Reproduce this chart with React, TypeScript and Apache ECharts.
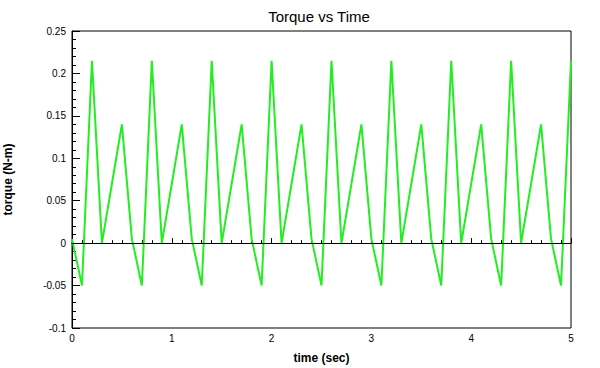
import React, { useEffect, useRef } from "react";
import * as echarts from "echarts";

const times: number[] = [
  0, 0.1, 0.2, 0.3, 0.4, 0.5, 0.6, 0.7, 0.8, 0.9,
  1.0, 1.1, 1.2, 1.3, 1.4, 1.5, 1.6, 1.7, 1.8, 1.9,
  2.0, 2.1, 2.2, 2.3, 2.4, 2.5, 2.6, 2.7, 2.8, 2.9,
  3.0, 3.1, 3.2, 3.3, 3.4, 3.5, 3.6, 3.7, 3.8, 3.9,
  4.0, 4.1, 4.2, 4.3, 4.4, 4.5, 4.6, 4.7, 4.8, 4.9, 5.0,
];
const torque: number[] = [
  0.005, -0.05, 0.215, 0.0, 0.07, 0.14,
  0.005, -0.05, 0.215, 0.0, 0.07, 0.14,
  0.005, -0.05, 0.215, 0.0, 0.07, 0.14,
  0.005, -0.05, 0.215, 0.0, 0.07, 0.14,
  0.005, -0.05, 0.215, 0.0, 0.07, 0.14,
  0.005, -0.05, 0.215, 0.0, 0.07, 0.14,
  0.005, -0.05, 0.215, 0.0, 0.07, 0.14,
  0.005, -0.05, 0.215, 0.0, 0.07, 0.14,
  0.005, -0.05, 0.215,
];
const titleText = "Torque vs Time";
const xName = "time (sec)";
const yName = "torque (N-m)";

export default function App() {
  const ref = useRef<HTMLDivElement>(null);
  useEffect(() => {
    if (!ref.current) return;
    const chart = echarts.init(ref.current, undefined, { renderer: "svg" });
    const font = "Liberation Sans";
    chart.setOption({
      animation: false,
      backgroundColor: "#ffffff",
      title: {
        text: titleText,
        left: 314,
        top: 4,
        textAlign: "center",
        textStyle: { fontFamily: font, fontSize: 15, fontWeight: "normal", color: "#000" },
      },
      grid: {
        left: 72,
        right: 29,
        top: 31,
        bottom: 40,
        outerBoundsMode: "none",
        containLabel: false,
        show: true,
        borderColor: "#000",
        borderWidth: 1,
        backgroundColor: "transparent",
      },
      xAxis: {
        type: "value",
        min: 0,
        max: 5,
        interval: 1,
        name: xName,
        nameLocation: "middle",
        nameGap: 24,
        nameTextStyle: { fontFamily: font, fontSize: 12, fontWeight: "bold", color: "#000" },
        axisLine: { show: true, lineStyle: { color: "#000", width: 1 } },
        axisTick: { show: true, inside: true, length: 5, lineStyle: { color: "#000" } },
        minorTick: { show: true, splitNumber: 10, length: 3, lineStyle: { color: "#000" } },
        splitLine: { show: false },
        axisLabel: { fontFamily: font, fontSize: 10, color: "#000", margin: 5 },
      },
      yAxis: {
        type: "value",
        min: -0.1,
        max: 0.25,
        interval: 0.05,
        name: yName,
        nameLocation: "middle",
        nameGap: 58,
        nameRotate: 90,
        nameTextStyle: { fontFamily: font, fontSize: 12, fontWeight: "bold", color: "#000" },
        axisLine: { show: true, lineStyle: { color: "#000", width: 1 } },
        axisTick: { show: true, inside: true, length: 8, lineStyle: { color: "#000" } },
        minorTick: { show: true, splitNumber: 5, length: 4, lineStyle: { color: "#000" } },
        splitLine: { show: false },
        axisLabel: { fontFamily: font, fontSize: 10, color: "#000", margin: 6 },
      },
      series: [
        {
          type: "line",
          data: times.map((t, i) => [t, torque[i]]),
          showSymbol: false,
          lineStyle: { color: "#22ee22", width: 2 },
          itemStyle: { color: "#22ee22" },
          markLine: {
            silent: true,
            symbol: "none",
            label: { show: false },
            lineStyle: { color: "#000", width: 1, type: "solid" },
            data: [{ yAxis: 0 }],
          },
          z: 2,
        },
      ],
    });
    return () => chart.dispose();
  }, []);
  return (
    <div
      ref={ref}
      style={{ position: "fixed", left: 0, top: 0, width: 600, height: 368 }}
    />
  );
}
